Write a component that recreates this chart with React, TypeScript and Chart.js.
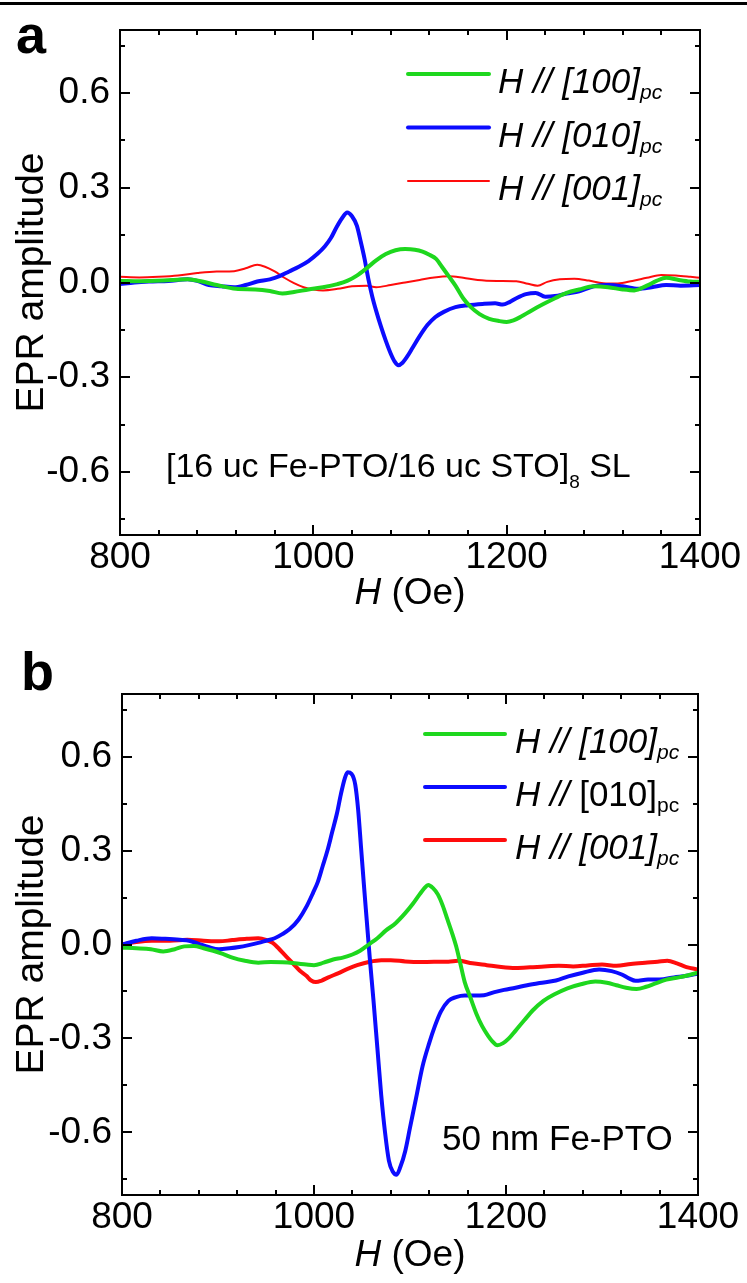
import React, { useEffect, useRef } from 'react';
import { Chart, registerables } from 'chart.js';

Chart.register(...registerables);

const FONT = '"Liberation Sans", Arial, Helvetica, sans-serif';

// ---- axes ----
const X_RANGE = [800, 1400];
const X_MAJOR = [800, 1000, 1200, 1400];
const X_MINOR = [840, 880, 920, 960, 1040, 1080, 1120, 1160, 1240, 1280, 1320, 1360];
const Y_RANGE = [-0.8, 0.8];
const Y_MAJOR = [-0.6, -0.3, 0, 0.3, 0.6];
const Y_MINOR = [-0.75, -0.45, -0.15, 0.15, 0.45, 0.75];

// ---- series colours / labels ----
const SERIES_COLORS = ['#1ed71e', '#0c0cff', '#ff0c0c'];
const LEGEND_A = [
  { dir: '[100]', sub: 'pc', italic: true },
  { dir: '[010]', sub: 'pc', italic: true },
  { dir: '[001]', sub: 'pc', italic: true },
];
const LEGEND_B = [
  { dir: '[100]', sub: 'pc', italic: true },
  { dir: '[010]', sub: 'pc', italic: false },
  { dir: '[001]', sub: 'pc', italic: true },
];

// ---- panel a: [16 uc Fe-PTO/16 uc STO]8 SL ----
const A_100: [number, number][] = [
  [800, 0.005], [820, 0.004], [845, 0.006], [870, 0.01], [885, 0.003], [900, -0.008], [920, -0.02],
  [940, -0.022], [955, -0.027], [968, -0.035], [980, -0.03], [995, -0.022], [1010, -0.015],
  [1025, -0.005], [1035, 0.005], [1045, 0.022], [1055, 0.045], [1065, 0.07], [1075, 0.09],
  [1085, 0.102], [1095, 0.106], [1105, 0.104], [1113, 0.098], [1120, 0.088], [1127, 0.075],
  [1133, 0.05], [1140, 0.02], [1147, -0.01], [1155, -0.05], [1163, -0.078], [1172, -0.1],
  [1182, -0.115], [1192, -0.122], [1200, -0.125], [1207, -0.12], [1215, -0.108], [1225, -0.09],
  [1237, -0.07], [1250, -0.05], [1262, -0.033], [1275, -0.022], [1290, -0.012], [1305, -0.015],
  [1320, -0.022], [1332, -0.025], [1345, -0.01], [1355, 0.005], [1365, 0.015], [1378, 0.008],
  [1390, 0.003], [1400, 0.002],
];
const A_010: [number, number][] = [
  [800, -0.005], [815, 0.0], [830, 0.003], [850, 0.005], [870, 0.01], [880, 0.005], [892, -0.008],
  [905, -0.012], [918, -0.015], [930, -0.008], [942, 0.003], [955, 0.01], [965, 0.02], [975, 0.035],
  [985, 0.05], [995, 0.068], [1004, 0.09], [1012, 0.115], [1018, 0.14], [1024, 0.175], [1030, 0.205],
  [1035, 0.222], [1040, 0.21], [1045, 0.18], [1049, 0.13], [1053, 0.075], [1057, 0.01], [1061, -0.045],
  [1065, -0.09], [1070, -0.14], [1075, -0.185], [1080, -0.225], [1084, -0.25], [1088, -0.262],
  [1092, -0.255], [1097, -0.235], [1103, -0.205], [1110, -0.17], [1118, -0.135], [1126, -0.11],
  [1135, -0.093], [1147, -0.078], [1160, -0.072], [1175, -0.068], [1188, -0.066], [1196, -0.07],
  [1203, -0.062], [1210, -0.05], [1220, -0.037], [1230, -0.033], [1240, -0.045], [1250, -0.043],
  [1262, -0.035], [1275, -0.028], [1290, -0.012], [1305, -0.008], [1320, -0.012], [1336, -0.02],
  [1350, -0.015], [1365, -0.008], [1380, -0.01], [1400, -0.008],
];
const A_001: [number, number][] = [
  [800, 0.018], [820, 0.016], [840, 0.018], [860, 0.022], [880, 0.03], [900, 0.035], [918, 0.036],
  [930, 0.045], [942, 0.056], [950, 0.05], [960, 0.035], [970, 0.015], [980, -0.002], [990, -0.015],
  [1000, -0.022], [1010, -0.025], [1025, -0.02], [1040, -0.012], [1055, -0.01], [1065, -0.015],
  [1080, -0.008], [1095, 0.0], [1110, 0.008], [1125, 0.016], [1140, 0.02], [1155, 0.015], [1170, 0.008],
  [1190, 0.005], [1210, 0.004], [1222, -0.004], [1232, -0.01], [1242, 0.002], [1255, 0.01],
  [1270, 0.012], [1285, 0.006], [1300, -0.002], [1315, -0.003], [1330, 0.005], [1345, 0.015],
  [1360, 0.024], [1375, 0.022], [1390, 0.018], [1400, 0.015],
];

// ---- panel b: 50 nm Fe-PTO ----
const B_100: [number, number][] = [
  [800, -0.01], [815, -0.012], [830, -0.015], [843, -0.022], [855, -0.015], [865, -0.006], [875, -0.005],
  [885, -0.012], [895, -0.02], [905, -0.03], [915, -0.042], [928, -0.052], [942, -0.058], [955, -0.056],
  [967, -0.057], [980, -0.06], [992, -0.064], [1000, -0.066], [1010, -0.058], [1020, -0.048],
  [1030, -0.042], [1040, -0.032], [1048, -0.02], [1057, 0.0], [1066, 0.02], [1075, 0.045], [1085, 0.068],
  [1095, 0.1], [1103, 0.13], [1110, 0.16], [1115, 0.18], [1119, 0.19], [1124, 0.18], [1129, 0.16],
  [1134, 0.125], [1139, 0.08], [1144, 0.035], [1148, -0.005], [1152, -0.055], [1157, -0.12],
  [1163, -0.17], [1169, -0.22], [1175, -0.26], [1181, -0.29], [1186, -0.31], [1191, -0.322],
  [1197, -0.315], [1203, -0.3], [1210, -0.275], [1219, -0.242], [1228, -0.21], [1239, -0.18],
  [1250, -0.16], [1264, -0.14], [1278, -0.127], [1293, -0.118], [1305, -0.122], [1315, -0.13],
  [1325, -0.138], [1336, -0.142], [1346, -0.135], [1355, -0.125], [1367, -0.112], [1380, -0.105],
  [1390, -0.098], [1400, -0.09],
];
const B_010: [number, number][] = [
  [800, 0.0], [815, 0.012], [831, 0.02], [845, 0.018], [860, 0.015], [870, 0.012], [880, 0.002],
  [890, -0.008], [901, -0.015], [912, -0.012], [922, -0.008], [932, -0.002], [942, 0.005], [950, 0.012],
  [959, 0.02], [967, 0.033], [975, 0.05], [984, 0.08], [992, 0.12], [999, 0.165], [1004, 0.2],
  [1009, 0.25], [1014, 0.3], [1019, 0.36], [1024, 0.42], [1028, 0.48], [1032, 0.53], [1035, 0.55],
  [1039, 0.545], [1043, 0.51], [1046, 0.43], [1049, 0.31], [1052, 0.19], [1055, 0.075], [1058, -0.04],
  [1062, -0.18], [1066, -0.33], [1070, -0.48], [1074, -0.6], [1078, -0.69], [1082, -0.725], [1086, -0.735],
  [1090, -0.71], [1095, -0.66], [1100, -0.585], [1107, -0.48], [1113, -0.39], [1120, -0.315],
  [1126, -0.26], [1132, -0.215], [1140, -0.18], [1148, -0.168], [1157, -0.163], [1167, -0.163],
  [1177, -0.162], [1188, -0.152], [1198, -0.145], [1210, -0.138], [1222, -0.13], [1235, -0.123],
  [1252, -0.115], [1265, -0.102], [1280, -0.09], [1297, -0.08], [1310, -0.085], [1320, -0.095],
  [1328, -0.108], [1335, -0.116], [1348, -0.112], [1360, -0.112], [1375, -0.105], [1388, -0.1],
  [1400, -0.093],
];
const B_001: [number, number][] = [
  [800, 0.0], [815, 0.008], [831, 0.012], [850, 0.012], [868, 0.015], [885, 0.012], [901, 0.01],
  [915, 0.014], [930, 0.018], [942, 0.02], [950, 0.015], [957, 0.005], [963, -0.012], [970, -0.035],
  [978, -0.06], [985, -0.083], [992, -0.1], [997, -0.115], [1002, -0.12], [1008, -0.115], [1015, -0.105],
  [1025, -0.092], [1035, -0.078], [1045, -0.066], [1058, -0.055], [1070, -0.05], [1080, -0.05],
  [1095, -0.054], [1110, -0.056], [1125, -0.055], [1140, -0.055], [1150, -0.052], [1165, -0.06],
  [1180, -0.066], [1195, -0.072], [1210, -0.075], [1225, -0.073], [1240, -0.07], [1255, -0.068],
  [1270, -0.07], [1285, -0.067], [1300, -0.064], [1315, -0.068], [1330, -0.062], [1345, -0.058],
  [1358, -0.055], [1368, -0.052], [1378, -0.06], [1388, -0.072], [1400, -0.08],
];

type Run = { t: string; size: number; italic?: boolean; bold?: boolean; dy?: number };

function fontOf(r: Run) {
  return `${r.italic ? 'italic ' : ''}${r.bold ? 'bold ' : ''}${r.size}px ${FONT}`;
}

function drawRuns(ctx: CanvasRenderingContext2D, x: number, y: number, runs: Run[], align: 'left' | 'center') {
  ctx.textAlign = 'left';
  ctx.textBaseline = 'alphabetic';
  const widths = runs.map((r) => {
    ctx.font = fontOf(r);
    return ctx.measureText(r.t).width;
  });
  const total = widths.reduce((a, b) => a + b, 0);
  let cx = align === 'center' ? x - total / 2 : x;
  runs.forEach((r, i) => {
    ctx.font = fontOf(r);
    ctx.fillText(r.t, cx, y + (r.dy || 0));
    cx += widths[i];
  });
}

type PanelCfg = {
  canvasH: number;
  padding: { left: number; right: number; top: number; bottom: number };
  series: [number, number][][];
  widths: number[];
  legend: { dir: string; sub: string; italic: boolean }[];
  legendPos: { x1: number; x2: number; tx: number; y0: number; dy: number };
  note: Run[];
  notePos: { x: number; y: number };
  letter: string;
  letterPos: { x: number; y: number };
  xTitleY: number;
  rule: boolean;
};

function makeDecor(cfg: PanelCfg) {
  return {
    id: 'decor',
    afterDraw(chart: any) {
      const { ctx, chartArea: a, scales } = chart;
      const xs = scales.x;
      const ys = scales.y;
      ctx.save();
      ctx.fillStyle = '#000';
      ctx.strokeStyle = '#000';
      if (cfg.rule) ctx.fillRect(0, 2, chart.width, 3);
      // frame
      ctx.lineWidth = 2;
      ctx.strokeRect(a.left, a.top, a.right - a.left, a.bottom - a.top);
      // inward ticks on all four sides
      ctx.beginPath();
      const xt = (vals: number[], len: number) =>
        vals.forEach((v) => {
          const px = Math.round(xs.getPixelForValue(v));
          ctx.moveTo(px, a.bottom);
          ctx.lineTo(px, a.bottom - len);
          ctx.moveTo(px, a.top);
          ctx.lineTo(px, a.top + len);
        });
      const yt = (vals: number[], len: number) =>
        vals.forEach((v) => {
          const py = Math.round(ys.getPixelForValue(v));
          ctx.moveTo(a.left, py);
          ctx.lineTo(a.left + len, py);
          ctx.moveTo(a.right, py);
          ctx.lineTo(a.right - len, py);
        });
      xt(X_MAJOR, 10);
      xt(X_MINOR, 5);
      yt(Y_MAJOR, 10);
      yt(Y_MINOR, 5);
      ctx.stroke();

      // legend
      const lp = cfg.legendPos;
      chart.data.datasets.forEach((ds: any, i: number) => {
        const y = lp.y0 + i * lp.dy;
        ctx.beginPath();
        ctx.strokeStyle = ds.borderColor;
        ctx.lineWidth = ds.borderWidth;
        ctx.lineCap = 'round';
        ctx.moveTo(lp.x1, y);
        ctx.lineTo(lp.x2, y);
        ctx.stroke();
        const item = cfg.legend[i];
        ctx.fillStyle = '#000';
        drawRuns(
          ctx,
          lp.tx,
          y + 19,
          [
            { t: 'H // ', size: 35, italic: true },
            { t: item.dir, size: 35, italic: item.italic },
            { t: item.sub, size: 21, italic: item.italic, dy: 6 },
          ],
          'left'
        );
      });

      ctx.fillStyle = '#000';
      // annotation
      drawRuns(ctx, cfg.notePos.x, cfg.notePos.y, cfg.note, 'left');
      // x title
      drawRuns(
        ctx,
        (a.left + a.right) / 2,
        cfg.xTitleY,
        [
          { t: 'H', size: 37, italic: true },
          { t: ' (Oe)', size: 37 },
        ],
        'center'
      );
      // y title
      ctx.save();
      ctx.translate(43, (a.top + a.bottom) / 2);
      ctx.rotate(-Math.PI / 2);
      ctx.font = `39px ${FONT}`;
      ctx.textAlign = 'center';
      ctx.textBaseline = 'alphabetic';
      ctx.fillText('EPR amplitude', 0, 0);
      ctx.restore();
      // panel letter
      drawRuns(ctx, cfg.letterPos.x, cfg.letterPos.y, [{ t: cfg.letter, size: 54, bold: true }], 'left');
      ctx.restore();
    },
  };
}

function buildConfig(cfg: PanelCfg): any {
  const tickFont = { family: FONT, size: 37, lineHeight: 1 };
  return {
    type: 'line',
    data: {
      datasets: cfg.series.map((s, i) => ({
        data: s.map(([x, y]) => ({ x, y })),
        borderColor: SERIES_COLORS[i],
        borderWidth: cfg.widths[i],
        pointRadius: 0,
        fill: false,
        cubicInterpolationMode: 'monotone',
      })),
    },
    options: {
      animation: false,
      responsive: false,
      maintainAspectRatio: false,
      events: [],
      layout: { padding: cfg.padding },
      plugins: { legend: { display: false }, tooltip: { enabled: false }, title: { display: false } },
      scales: {
        x: {
          type: 'linear',
          min: X_RANGE[0],
          max: X_RANGE[1],
          grid: { display: false, drawTicks: false },
          border: { display: false },
          afterBuildTicks: (s: any) => {
            s.ticks = X_MAJOR.map((v) => ({ value: v }));
          },
          afterFit: (s: any) => {
            s.height = 60;
          },
          ticks: {
            font: tickFont,
            color: '#000',
            padding: 4,
            maxRotation: 0,
            minRotation: 0,
            autoSkip: false,
            callback: (v: number) => String(v),
          },
        },
        y: {
          type: 'linear',
          min: Y_RANGE[0],
          max: Y_RANGE[1],
          grid: { display: false, drawTicks: false },
          border: { display: false },
          afterBuildTicks: (s: any) => {
            s.ticks = Y_MAJOR.map((v) => ({ value: v }));
          },
          afterFit: (s: any) => {
            s.width = 120;
          },
          ticks: {
            font: tickFont,
            color: '#000',
            padding: 10,
            autoSkip: false,
            callback: (v: number) => Number(v).toFixed(1),
          },
        },
      },
    },
    plugins: [makeDecor(cfg)],
  };
}

const PANEL_A: PanelCfg = {
  canvasH: 640,
  padding: { left: 0, right: 47, top: 30, bottom: 45 },
  series: [A_100, A_010, A_001],
  widths: [4, 4, 2],
  legend: LEGEND_A,
  legendPos: { x1: 408, x2: 489, tx: 498, y0: 74, dy: 53.5 },
  note: [
    { t: '[16 uc Fe-PTO/16 uc STO]', size: 34 },
    { t: '8', size: 19, dy: 11 },
    { t: ' SL', size: 34 },
  ],
  notePos: { x: 166, y: 477 },
  letter: 'a',
  letterPos: { x: 16, y: 53 },
  xTitleY: 604,
  rule: true,
};

const PANEL_B: PanelCfg = {
  canvasH: 643,
  padding: { left: 2, right: 49, top: 54, bottom: 28 },
  series: [B_100, B_010, B_001],
  widths: [4, 4, 4],
  legend: LEGEND_B,
  legendPos: { x1: 425, x2: 505, tx: 515, y0: 94, dy: 53 },
  note: [{ t: '50 nm Fe-PTO', size: 35 }],
  notePos: { x: 442, y: 510 },
  letter: 'b',
  letterPos: { x: 21, y: 50 },
  xTitleY: 626,
  rule: false,
};

function Panel({ cfg }: { cfg: PanelCfg }) {
  const ref = useRef<HTMLCanvasElement>(null);
  useEffect(() => {
    const chart = new Chart(ref.current as HTMLCanvasElement, buildConfig(cfg));
    return () => chart.destroy();
  }, [cfg]);
  return (
    <canvas
      ref={ref}
      width={747}
      height={cfg.canvasH}
      style={{ display: 'block', width: 747, height: cfg.canvasH }}
    />
  );
}

export default function App() {
  return (
    <div
      style={{
        position: 'absolute',
        left: 0,
        top: 0,
        width: 747,
        height: 1283,
        overflow: 'hidden',
        background: '#fff',
      }}
    >
      <Panel cfg={PANEL_A} />
      <Panel cfg={PANEL_B} />
    </div>
  );
}
